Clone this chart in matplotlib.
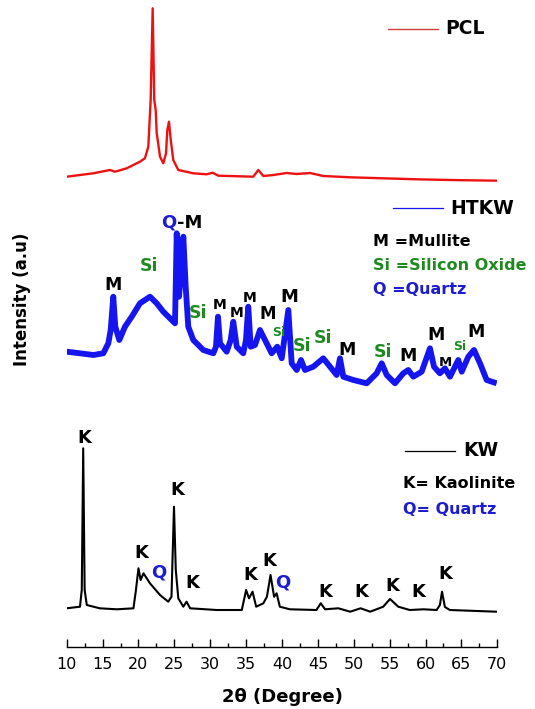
import numpy as np
import matplotlib
matplotlib.use("Agg")
import matplotlib.pyplot as plt

plt.rcParams['font.family'] = ['DejaVu Sans']

# 2-theta (deg) / intensity (a.u.)
pcl_2t = [10.0, 13.7, 16.03, 16.73, 18.36, 20.2, 20.9, 21.37, 21.7, 21.98, 22.2, 22.4,
          22.54, 22.68, 23.0, 23.46, 23.84, 24.02, 24.25, 24.5, 24.85, 25.55, 27.64, 29.5,
          30.34, 31.12, 36.0, 36.7, 37.4, 38.8, 40.65, 42.0, 43.9, 45.75, 49.5, 54.1,
          58.8, 63.4, 70.0]
pcl_int = [3.3, 6.7, 10, 8.3, 11.7, 18.3, 21.7, 33.3, 80, 171.7, 80, 70,
           47, 40, 23.3, 16.7, 26.7, 50, 58.3, 40, 20, 10, 6.7, 5.7,
           7.3, 4.3, 3.3, 10, 4, 5, 7, 6, 7, 4, 2.7, 1.7,
           0.7, 0, -0.7]

htkw_2t = [10.0, 11.85, 13.71, 15.1, 15.8, 16.13, 16.49, 16.77, 17.33, 18.12, 19.06, 20.21,
           21.61, 22.54, 23.46, 24.39, 25.09, 25.33, 25.65, 25.88, 26.25, 26.58, 26.94, 27.64,
           29.03, 30.43, 30.8, 31.08, 31.36, 32.29, 32.85, 33.21, 33.69, 34.6, 34.98, 35.3,
           35.64, 36.24, 36.93, 37.63, 38.56, 39.34, 39.96, 40.88, 41.35, 42.05, 42.65, 43.2,
           44.36, 45.75, 46.69, 47.62, 48.08, 48.54, 49.93, 51.8, 53.19, 53.89, 54.59, 55.74,
           56.9, 57.6, 58.3, 59.46, 60.62, 61.18, 62.0, 62.7, 63.41, 64.56, 65.04, 65.96,
           66.75, 67.59, 68.52, 69.91]
htkw_int = [33.3, 31.7, 30, 31.7, 41.7, 55, 88.3, 58.3, 45, 58.3, 68.3, 81.7,
            88.3, 81.7, 73.3, 66.7, 61.7, 151.7, 88.3, 108.3, 148.3, 98.3, 58.3, 45,
            35, 31.7, 38.3, 68.3, 41.7, 33.3, 45, 63.3, 38.3, 31.7, 45, 78.3,
            38.3, 40, 55, 45, 31.7, 38.3, 26.7, 75, 21.7, 15, 25, 15,
            18.3, 26.7, 18.3, 10, 26.7, 8.3, 5, 1.7, 11.7, 21.7, 10, 1.7,
            11.7, 15, 8.3, 13.3, 36.7, 18.3, 11.7, 16.7, 8.3, 25, 13.3, 28.3,
            35, 21.7, 5, 1.7]

kw_2t = [10.0, 11.85, 12.1, 12.3, 12.5, 12.8, 14.6, 17.0, 19.3, 19.65, 20.0, 20.3, 20.7,
         21.6, 23.0, 24.15, 24.6, 24.95, 25.2, 25.55, 26.25, 26.7, 27.2, 30.9, 34.4, 35.0,
         35.4, 35.9, 36.4, 37.4, 37.9, 38.4, 38.9, 39.25, 39.7, 41.1, 44.8, 45.4, 46.0,
         47.85, 49.5, 50.95, 52.3, 54.1, 55.05, 56.2, 57.8, 59.7, 61.55, 62.0, 62.3, 62.7,
         63.4, 69.9]
kw_int = [3.7, 5.3, 22, 163.7, 22, 7, 3.7, 2.7, 3.7, 22, 43.7, 32, 38.7,
          28.7, 17, 10.3, 15.3, 105.3, 42, 13.7, 5.3, 10.3, 3.7, 2, 2, 22,
          13.7, 20.3, 5.3, 8.7, 15.3, 37, 15.3, 18.7, 5.3, 2.7, 2, 8.7, 2.7,
          3.7, 0.3, 3.7, 0.3, 5.3, 13, 5.3, 2, 2.7, 2, 7, 20.3, 5,
          2, 0.3]

# vertical stacking offsets
offsets = {'PCL': 467, 'HTKW': 262, 'KW': 35}

# phase labels: (2theta, height, text, colour key, size)
htkw_labels = [
    (16.5, 362, 'M', 'k', 12.5), (21.5, 381, 'Si', 'g', 12.5),
    (28.3, 334, 'Si', 'g', 12.5), (31.35, 342, 'M', 'k', 10),
    (33.7, 334, 'M', 'k', 10), (35.55, 349, 'M', 'k', 10),
    (37.95, 333, 'M', 'k', 12), (39.5, 315, 'Si', 'g', 9),
    (41.0, 350, 'M', 'k', 13), (42.75, 301, 'Si', 'g', 12.5),
    (45.75, 309, 'Si', 'g', 12.5), (49.0, 297, 'M', 'k', 12.5),
    (54.1, 295, 'Si', 'g', 12.5), (57.6, 291, 'M', 'k', 12.5),
    (61.45, 312, 'M', 'k', 12.5), (62.7, 285, 'M', 'k', 9.5),
    (64.7, 300, 'Si', 'g', 9), (67.0, 315, 'M', 'k', 12.5),
]
kw_labels = [
    (12.45, 209, 'K', 'k'), (20.35, 94, 'K', 'k'), (22.85, 74, 'Q', 'b'),
    (25.45, 157, 'K', 'k'), (27.55, 64, 'K', 'k'), (35.65, 72, 'K', 'k'),
    (38.2, 86, 'K', 'k'), (40.05, 65, 'Q', 'b'), (46.0, 55, 'K', 'k'),
    (51.0, 55, 'K', 'k'), (55.4, 61, 'K', 'k'), (59.0, 55, 'K', 'k'),
    (62.8, 73, 'K', 'k'),
]

colors = {'k': 'black', 'g': '#1f8a1f', 'b': '#1c1cd0'}
RED = '#ee1111'
BLUE = '#1515f0'

fig = plt.figure(figsize=(5.35, 7.09), dpi=100)
ax = fig.add_axes([66.7 / 535, 62 / 709, (497.3 - 66.7) / 535, 647 / 709])
ax.set_xlim(10, 70)
ax.set_ylim(0, 647)

ax.plot(pcl_2t, np.array(pcl_int) + offsets['PCL'], color=RED, lw=1.7)
ax.plot(htkw_2t, np.array(htkw_int) + offsets['HTKW'], color=BLUE, lw=4.2,
        solid_joinstyle='round', solid_capstyle='butt')
ax.plot(kw_2t, np.array(kw_int) + offsets['KW'], color='black', lw=1.5)

# legend-like keys
ax.plot([54.8, 61.8], [618, 618], color='#d04040', lw=1.0)
ax.text(62.7, 618, 'PCL', fontsize=13.5, fontweight='bold', va='center')
ax.plot([55.5, 62.5], [439, 439], color=BLUE, lw=0.9)
ax.text(63.4, 439, 'HTKW', fontsize=13.5, fontweight='bold', va='center')
ax.plot([57.1, 64.1], [196, 196], color='black', lw=0.9)
ax.text(65.25, 196, 'KW', fontsize=13.5, fontweight='bold', va='center')

ax.text(52.7, 406, 'M =Mullite', fontsize=11.5, fontweight='bold', va='center', color=colors['k'])
ax.text(52.7, 381, 'Si =Silicon Oxide', fontsize=11.5, fontweight='bold', va='center', color=colors['g'])
ax.text(52.7, 357, 'Q =Quartz', fontsize=11.5, fontweight='bold', va='center', color=colors['b'])
ax.text(56.9, 163, 'K= Kaolinite', fontsize=11.5, fontweight='bold', va='center', color=colors['k'])
ax.text(56.9, 137, 'Q= Quartz', fontsize=11.5, fontweight='bold', va='center', color=colors['b'])

for x, y, s, c, fs in htkw_labels:
    ax.text(x, y, s, fontsize=fs, fontweight='bold', color=colors[c], ha='center', va='center')
ax.text(25.3, 424, 'Q', fontsize=13, fontweight='bold', color=colors['b'], ha='right', va='center')
ax.text(25.3, 424, '-M', fontsize=13, fontweight='bold', color='black', ha='left', va='center')

for x, y, s, c in kw_labels:
    ax.text(x, y, s, fontsize=13, fontweight='bold', color=colors[c], ha='center', va='center')

for side in ['left', 'right', 'top']:
    ax.spines[side].set_visible(False)
ax.spines['bottom'].set_linewidth(1.0)
ax.set_yticks([])
ax.set_xticks(np.arange(10, 71, 5))
ax.set_xticks(np.arange(12.5, 70, 5), minor=True)
ax.tick_params(axis='x', which='major', direction='in', length=6, width=1.0,
               labelsize=11.5, pad=7)
ax.tick_params(axis='x', which='minor', direction='in', length=3, width=1.0)
ax.set_xlabel('2θ (Degree)', fontsize=13, fontweight='bold', labelpad=12)
fig.text(21.7 / 535, 1 - 299 / 709, 'Intensity (a.u)', rotation=90, fontsize=12,
         fontweight='bold', ha='center', va='center')

fig.savefig('out.png', dpi=100)
